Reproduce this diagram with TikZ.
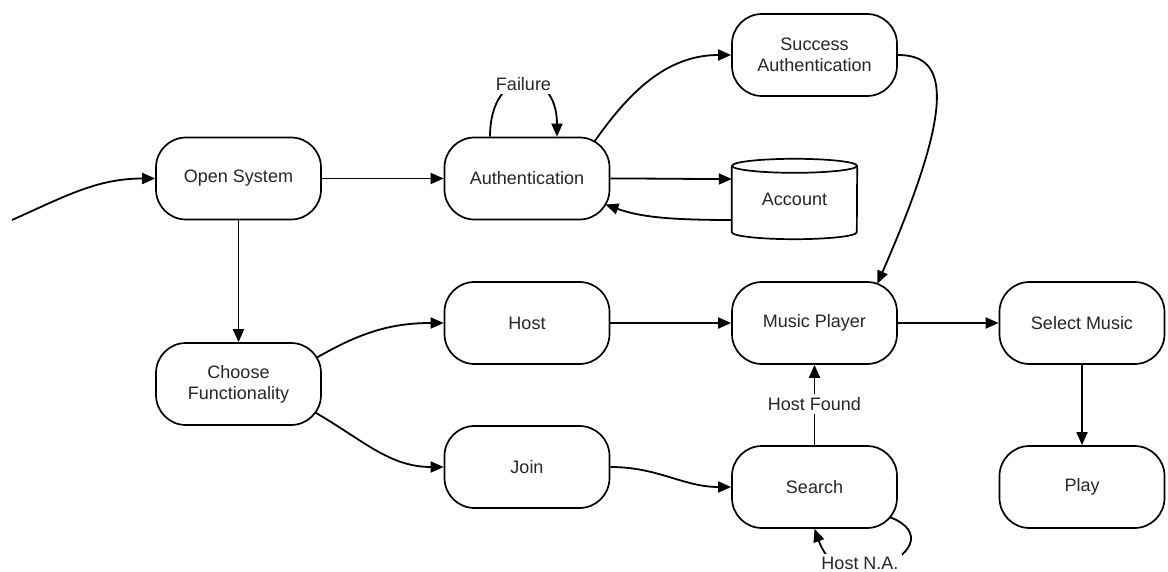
\documentclass[tikz,border=0pt]{standalone}
\usepackage{fontspec}
\setmainfont{Liberation Sans}
\usetikzlibrary{arrows.meta}
\begin{document}
\begin{tikzpicture}[x=1pt,y=1pt,
  every node/.style={font=\fontsize{18}{21}\selectfont, text=black!85},
  stepbox/.style={draw=black, line width=1.7pt, rectangle, rounded corners=30pt,
    minimum width=165pt, minimum height=82pt, align=center, inner sep=0pt},
  conn/.style={draw=black, line width=1.8pt, -{Triangle[length=13pt,width=11pt]}},
  plain/.style={draw=black, line width=1.7pt},
  tag/.style={fill=white, inner sep=3pt}]
\useasboundingbox (0,0) rectangle (1168,-572);
\fill[white] (0,0) rectangle (1168,-572);

% states
\node[stepbox] (open)   at (238.5,-178.5) {Open System};
\node[stepbox] (auth)   at (527,-178.5)   {Authentication};
\node[stepbox] (succ)   at (814.5,-55)    {Success\\Authentication};
\node[minimum width=125pt, minimum height=82pt, inner sep=0pt] (acct) at (794.5,-199) {Account};
\node[stepbox] (choose) at (238.5,-384)   {Choose\\Functionality};
\node[stepbox] (host)   at (527,-323)     {Host};
\node[stepbox] (music)  at (814.5,-323)   {Music Player};
\node[stepbox] (select) at (1082,-323)    {Select Music};
\node[stepbox] (join)   at (527,-467)     {Join};
\node[stepbox] (search) at (814.5,-487)   {Search};
\node[stepbox] (play)   at (1082,-487)    {Play};
\coordinate (entry) at (12,-220);

% account store drawn as a cylinder
\draw[plain] ([yshift=-8pt]acct.north) ellipse [x radius=62.5pt, y radius=7pt];
\draw[plain] ([yshift=-8pt]acct.north west) -- ([yshift=8pt]acct.south west)
  arc[start angle=180, end angle=360, x radius=62.5pt, y radius=7pt]
  -- ([yshift=-8pt]acct.north east);

% transitions
\draw[conn] (entry) to[out=24,in=180] (open.west);
\draw[conn] (open.east) to[out=0,in=180] (auth.west);
\draw[conn] (open.south) -- (choose.north);
\draw[conn] ([shift={(67.5,37)}]auth.center) to[out=55,in=180] (succ.west);
\draw[conn] (auth.east) to[out=0,in=180] ([yshift=20pt]acct.west);
\draw[conn] ([yshift=-21pt]acct.west) .. controls (670,-220) and (640,-217) ..
  ([shift={(78.5,-26)}]auth.center);
\draw[conn] (succ.east) .. controls (945,-55) and (960,-95) ..
  ([shift={(62.8,39.2)}]music.center);
\draw[conn] ([xshift=-37pt]auth.north) .. controls (490,-65) and (557,-65) ..
  ([xshift=30pt]auth.north);
\node[tag] (failure) at (523.5,-84) {Failure};

\draw[conn] ([shift={(78.5,26.5)}]choose.center) to[out=30,in=180] (host.west);
\draw[conn] ([shift={(77.1,-28.7)}]choose.center) to[out=-30,in=180] (join.west);
\draw[conn] (host.east) to[out=0,in=180] (music.west);
\draw[conn] (music.east) -- (select.west);
\draw[conn] (select.south) -- (play.north);
\draw[conn] (join.east) to[out=0,in=180] (search.west);
\draw[conn] (search.north) -- (music.south);
\node[tag] (found) at (814.5,-404) {Host Found};
\draw[conn] ([shift={(75.5,-30.3)}]search.center) .. controls (925,-530) and (915,-558) ..
  (870,-570) .. controls (840,-576) and (825,-558) .. (search.south);
\node[tag] (na) at (860,-563) {Host N.A.};
\end{tikzpicture}
\end{document}
